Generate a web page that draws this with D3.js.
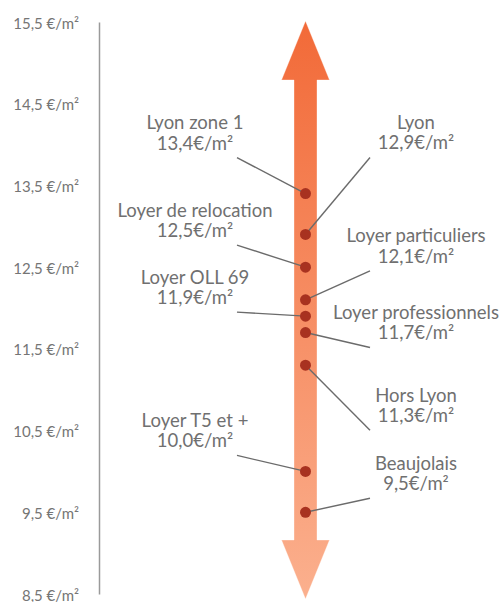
<!DOCTYPE html>
<html>
<head>
<meta charset="utf-8">
<script src="https://d3js.org/d3.v7.min.js"></script>
<style>
body {margin:0; background:white;}
svg text {font-family: Lato, "Open Sans", sans-serif;}
</style>
</head>
<body>
<svg width="502" height="602"></svg>
<script>
// data
var names = ["Lyon zone 1", "Lyon", "Loyer de relocation", "Loyer particuliers", "Loyer OLL 69",
             "Loyer professionnels", "Hors Lyon", "Loyer T5 et +", "Beaujolais"];
var values = [13.4, 12.9, 12.5, 12.1, 11.9, 11.7, 11.3, 10.0, 9.5];
var ticks = [15.5, 14.5, 13.5, 12.5, 11.5, 10.5, 9.5, 8.5];

// label layout (side + vertical offset of the label from its dot)
var sides = ["left", "right", "left", "right", "left", "right", "right", "left", "right"];
var labelDy = [-71, -112, -57, -64, -39, -20, 30, -51, -49];

var svg = d3.select("svg");
var fmt = function(v) { return d3.format(".1f")(v).replace(".", ","); };

var y = d3.scaleLinear().domain([8.5, 15.5]).range([594, 22]);
var cx = 305.5;

// gradient for the arrow
var grad = svg.append("defs").append("linearGradient")
  .attr("id", "arrowGrad")
  .attr("x1", 0).attr("y1", 0).attr("x2", 0).attr("y2", 1);
grad.append("stop").attr("offset", "0%").attr("stop-color", "#f26a38");
grad.append("stop").attr("offset", "100%").attr("stop-color", "#fbb08e");

// axis
var axis = d3.axisLeft(y).tickValues(ticks).tickSize(0).tickPadding(20)
  .tickFormat(function(d) { return fmt(d) + " €/m²"; });
var ax = svg.append("g").attr("transform", "translate(99,0)").call(axis);
ax.select(".domain").attr("stroke", "#9a9a9a").attr("stroke-width", 1.5);
ax.selectAll("text").attr("fill", "#757575").style("font-size", "15px")
  .style("font-family", "Lato, sans-serif").attr("dy", "0.4em");

// double arrow
var arrowTop = y(15.5) - 1, arrowBot = y(8.5) + 5;
var headH = 59, headW = 24, shaftW = 11.5;
var arrow = d3.path();
arrow.moveTo(cx, arrowTop);
arrow.lineTo(cx + headW, arrowTop + headH);
arrow.lineTo(cx + shaftW, arrowTop + headH);
arrow.lineTo(cx + shaftW, arrowBot - headH);
arrow.lineTo(cx + headW, arrowBot - headH);
arrow.lineTo(cx, arrowBot);
arrow.lineTo(cx - headW, arrowBot - headH);
arrow.lineTo(cx - shaftW, arrowBot - headH);
arrow.lineTo(cx - shaftW, arrowTop + headH);
arrow.lineTo(cx - headW, arrowTop + headH);
arrow.closePath();
svg.append("path").attr("d", arrow.toString())
  .attr("fill", "url(#arrowGrad)")
  .attr("stroke", "#ffffff").attr("stroke-opacity", 0.35).attr("stroke-width", 1);

var items = names.map(function(n, i) {
  return {name: n, value: values[i], side: sides[i], dy: labelDy[i]};
});

// leader lines
svg.selectAll(".leader").data(items).enter().append("line")
  .attr("class", "leader")
  .attr("x1", function(d) { return d.side == "left" ? 237 : 370; })
  .attr("y1", function(d) { return y(d.value) + d.dy + 35; })
  .attr("x2", cx)
  .attr("y2", function(d) { return y(d.value); })
  .attr("stroke", "#6b6b6b").attr("stroke-width", 1.4);

// dots
svg.selectAll(".dot").data(items).enter().append("circle")
  .attr("class", "dot")
  .attr("cx", cx)
  .attr("cy", function(d) { return y(d.value); })
  .attr("r", 5.5)
  .attr("fill", "#a83220");

// labels
var lab = svg.selectAll(".lab").data(items).enter().append("text")
  .attr("class", "lab")
  .attr("text-anchor", "middle")
  .attr("fill", "#707070")
  .style("font-size", "18.5px");
lab.append("tspan")
  .attr("x", function(d) { return d.side == "left" ? 195 : 416; })
  .attr("y", function(d) { return y(d.value) + d.dy; })
  .attr("dy", "0.35em")
  .text(function(d) { return d.name; });
lab.append("tspan")
  .attr("x", function(d) { return d.side == "left" ? 195 : 416; })
  .attr("y", function(d) { return y(d.value) + d.dy + 20.5; })
  .attr("dy", "0.35em")
  .text(function(d) { return fmt(d.value) + "€/m²"; });
</script>
</body>
</html>
